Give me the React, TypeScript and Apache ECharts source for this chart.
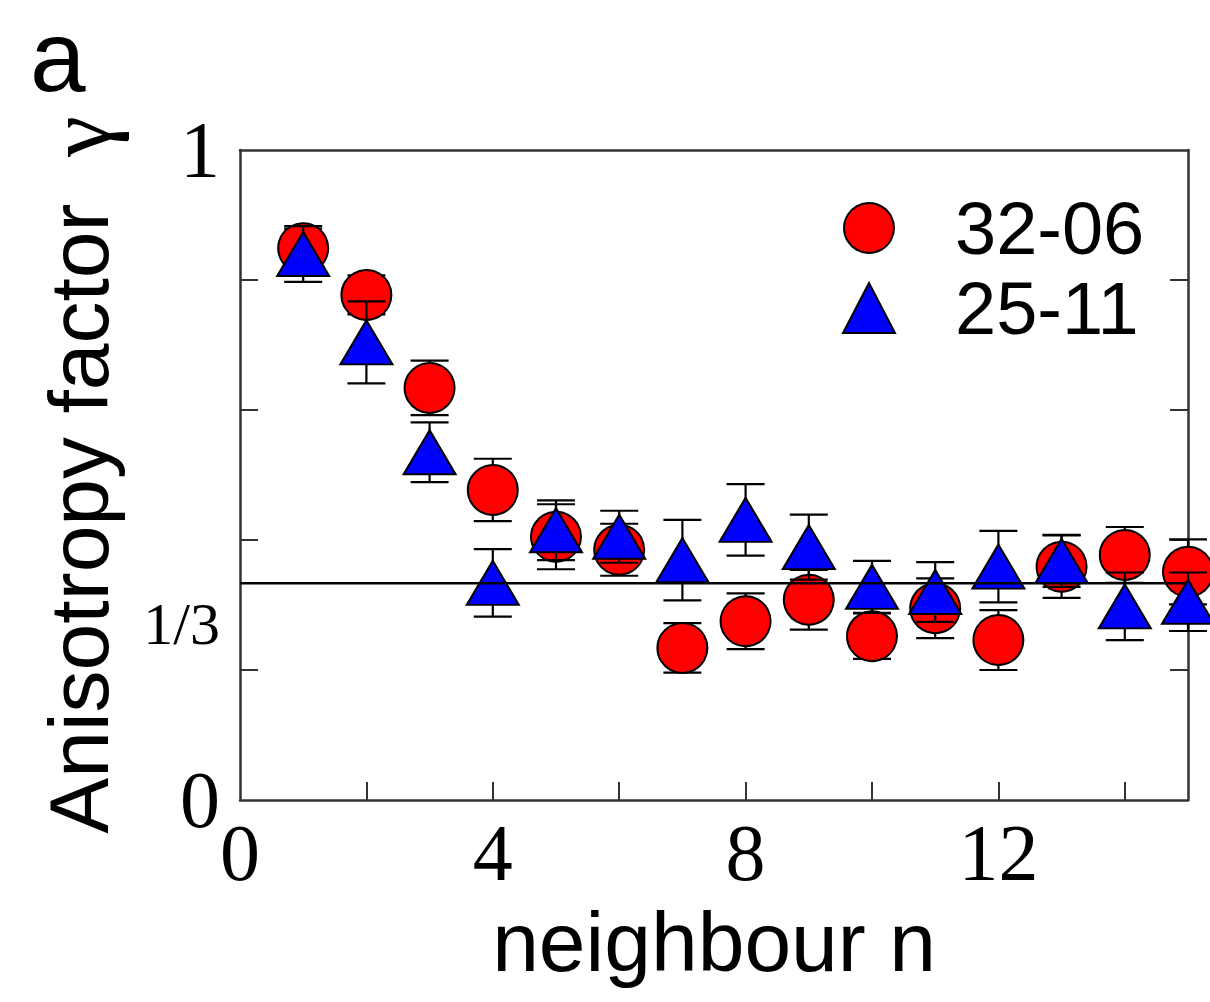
import React, { useEffect, useRef } from 'react';
import * as echarts from 'echarts';

const neighbours = [1, 2, 3, 4, 5, 6, 7, 8, 9, 10, 11, 12, 13, 14, 15];
const gamma3206 = [0.849, 0.777, 0.634, 0.477, 0.405, 0.385, 0.234, 0.275, 0.308, 0.252, 0.295, 0.246, 0.359, 0.377, 0.351];
const err3206 = [0.03, 0.03, 0.042, 0.048, 0.05, 0.04, 0.038, 0.043, 0.046, 0.035, 0.046, 0.046, 0.048, 0.043, 0.05];
const gamma2511 = [0.84, 0.704, 0.535, 0.334, 0.415, 0.405, 0.369, 0.431, 0.389, 0.328, 0.32, 0.359, 0.368, 0.298, 0.305];
const err2511 = [0.043, 0.063, 0.046, 0.052, 0.046, 0.04, 0.062, 0.055, 0.05, 0.04, 0.046, 0.055, 0.04, 0.052, 0.045];
const seriesNames = ['32-06', '25-11'];
const xLabelValues = [0, 4, 8, 12];
const xTickValues = [2, 4, 6, 8, 10, 12, 14];
const yLabelValues = [0, 1 / 3, 1];
const yTickValues = [0.2, 0.4, 0.6, 0.8];
const isotropicLevel = 1 / 3;
const xRange = [0, 15];
const yRange = [0, 1];

const SERIF = '"Liberation Serif", "Times New Roman", serif';
const SANS = '"Liberation Sans", Arial, Helvetica, sans-serif';
const AXIS_COLOR = '#333';

function errorRender(params: any, api: any) {
  const x = api.value(0);
  const lo = api.coord([x, api.value(1)]);
  const hi = api.coord([x, api.value(2)]);
  const hw = 19;
  const style = { stroke: '#000', lineWidth: 2.2 };
  return {
    type: 'group',
    children: [
      { type: 'line', shape: { x1: lo[0], y1: lo[1], x2: hi[0], y2: hi[1] }, style },
      { type: 'line', shape: { x1: lo[0] - hw, y1: lo[1], x2: lo[0] + hw, y2: lo[1] }, style },
      { type: 'line', shape: { x1: hi[0] - hw, y1: hi[1], x2: hi[0] + hw, y2: hi[1] }, style },
    ],
  };
}

export default function App() {
  const ref = useRef<HTMLDivElement>(null);
  useEffect(() => {
    if (!ref.current) return;
    const chart = echarts.init(ref.current, undefined, { renderer: 'svg' });
    const redPts = neighbours.map((n, i) => [n, gamma3206[i]]);
    const bluePts = neighbours.map((n, i) => [n, gamma2511[i]]);
    const redErr = neighbours.map((n, i) => [n, gamma3206[i] - err3206[i], gamma3206[i] + err3206[i]]);
    const blueErr = neighbours.map((n, i) => [n, gamma2511[i] - err2511[i], gamma2511[i] + err2511[i]]);
    const option: any = {
      animation: false,
      backgroundColor: '#fff',
      grid: { left: 240, top: 150, right: 22, bottom: 202, containLabel: false },
      graphic: [
        {
          type: 'text',
          x: 30,
          y: 56,
          style: {
            text: 'a',
            fontFamily: SANS,
            fontSize: 100,
            lineHeight: 80,
            verticalAlign: 'middle',
            align: 'left',
            fill: '#000',
          },
        },
      ],
      legend: {
        orient: 'vertical',
        left: 837,
        top: 186,
        itemWidth: 52,
        itemHeight: 50,
        itemGap: 6,
        selectedMode: false,
        data: seriesNames,
        textStyle: { fontFamily: SANS, fontSize: 74, color: '#000', padding: [0, 0, 0, 55] },
      },
      xAxis: [
        {
          type: 'value',
          min: xRange[0],
          max: xRange[1],
          name: 'neighbour n',
          nameLocation: 'middle',
          nameGap: 100,
          nameTextStyle: { fontFamily: SANS, fontSize: 84, color: '#000' },
          axisLine: { show: true, lineStyle: { color: AXIS_COLOR, width: 2.5 } },
          axisTick: { show: true, inside: true, length: 18, customValues: xTickValues, lineStyle: { color: AXIS_COLOR, width: 2 } },
          axisLabel: { customValues: xLabelValues, fontFamily: SERIF, fontSize: 80, color: '#000', margin: 13 },
          splitLine: { show: false },
        },
        {
          type: 'value',
          position: 'top',
          min: xRange[0],
          max: xRange[1],
          axisLine: { show: true, onZero: false, lineStyle: { color: AXIS_COLOR, width: 2.5 } },
          axisTick: { show: false },
          axisLabel: { show: false },
          splitLine: { show: false },
        },
      ],
      yAxis: [
        {
          type: 'value',
          min: yRange[0],
          max: yRange[1],
          name: 'Anisotropy factor  {g|γ}',
          nameLocation: 'middle',
          nameRotate: 90,
          nameGap: 115,
          nameTextStyle: {
            fontFamily: SANS,
            fontSize: 84,
            color: '#000',
            rich: { g: { fontFamily: SERIF, fontSize: 92, color: '#000' } },
          },
          axisLine: { show: true, onZero: false, lineStyle: { color: AXIS_COLOR, width: 2.5 } },
          axisTick: { show: true, inside: true, length: 18, customValues: yTickValues, lineStyle: { color: AXIS_COLOR, width: 2 } },
          axisLabel: {
            customValues: yLabelValues,
            margin: 20,
            formatter: (v: number) => {
              if (Math.abs(v - 1 / 3) < 1e-6) return '{s|1/3}';
              return '{b|' + (v === 0 ? '0' : '1') + '}';
            },
            rich: {
              b: { fontFamily: SERIF, fontSize: 80, color: '#000' },
              s: { fontFamily: SERIF, fontSize: 60, color: '#000', padding: [82, 0, 0, 0] },
            },
          },
          splitLine: { show: false },
        },
        {
          type: 'value',
          position: 'right',
          min: yRange[0],
          max: yRange[1],
          alignTicks: false,
          axisLine: { show: true, onZero: false, lineStyle: { color: AXIS_COLOR, width: 2.5 } },
          axisTick: { show: true, inside: true, length: 18, customValues: yTickValues, lineStyle: { color: AXIS_COLOR, width: 2 } },
          axisLabel: { show: false },
          splitLine: { show: false },
        },
      ],
      series: [
        {
          type: 'custom',
          name: '32-06 err',
          renderItem: errorRender,
          encode: { x: 0, y: [1, 2] },
          data: redErr,
          z: 1,
        },
        {
          type: 'scatter',
          name: seriesNames[0],
          symbol: 'circle',
          symbolSize: 50,
          itemStyle: { color: '#ff0000', borderColor: '#000', borderWidth: 2, opacity: 1 },
          data: redPts,
          z: 2,
        },
        {
          type: 'custom',
          name: '25-11 err',
          renderItem: errorRender,
          encode: { x: 0, y: [1, 2] },
          data: blueErr,
          z: 3,
        },
        {
          type: 'scatter',
          name: seriesNames[1],
          symbol: 'triangle',
          symbolSize: [52, 44],
          itemStyle: { color: '#0000ff', borderColor: '#000', borderWidth: 2, opacity: 1 },
          data: bluePts,
          z: 4,
        },
        {
          type: 'line',
          name: 'isotropic',
          data: [[xRange[0], isotropicLevel], [xRange[1], isotropicLevel]],
          symbol: 'none',
          lineStyle: { color: '#000', width: 2.5 },
          z: 6,
          silent: true,
        },
      ],
    };
    chart.setOption(option);
    return () => chart.dispose();
  }, []);
  return <div ref={ref} style={{ position: 'fixed', left: 0, top: 0, width: 1210, height: 1002, background: '#fff' }} />;
}
